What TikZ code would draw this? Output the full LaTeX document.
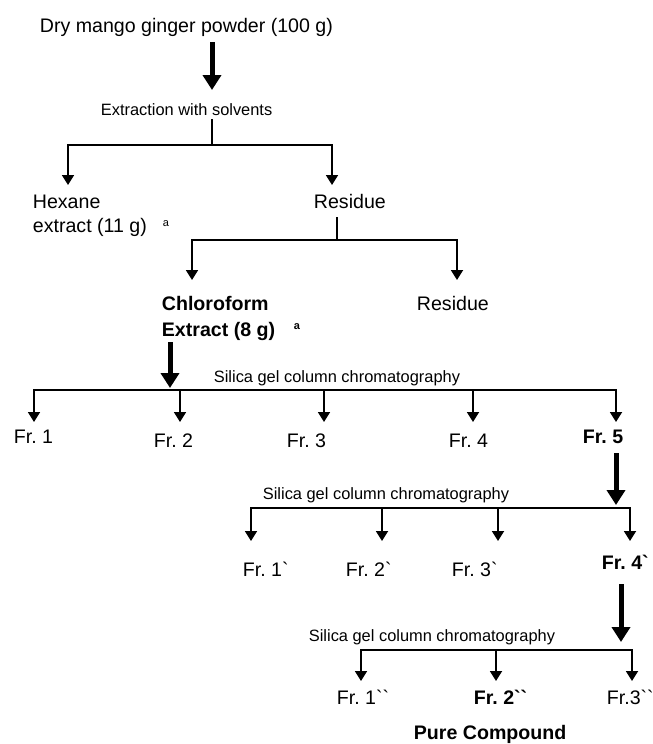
\documentclass[tikz,border=0pt]{standalone}
\usepackage{fontspec}
\setmainfont{Liberation Sans}
\usetikzlibrary{arrows.meta}
\newcommand{\bt}{\textasciigrave}
\frenchspacing
\begin{document}
\begin{tikzpicture}[x=1pt, y=-1pt, line width=1.8pt,
  txt/.style={anchor=base west, inner sep=0pt, font=\fontsize{19.6}{23}\selectfont},
  txtb/.style={txt, font=\fontsize{19.6}{23}\selectfont\bfseries},
  note/.style={anchor=base west, inner sep=0pt, font=\fontsize{16.4}{19}\selectfont},
  supa/.style={anchor=base west, inner sep=0pt, font=\fontsize{11}{13}\selectfont},
  tip/.style={-{Triangle[width=12pt,length=10pt]}},
  tips/.style={{Triangle[width=12pt,length=10pt]}-{Triangle[width=12pt,length=10pt]}},
  big tip/.style={line width=5pt, -{Triangle[width=18pt,length=15pt]}}]
\useasboundingbox (0,0) rectangle (653,744);
% texts
\node [txt](dry) at (39,32) {Dry mango ginger powder (100 g)};
\node [note](extr) at (100,115) {Extraction with solvents};
\node [txt](hex) at (32,208) {Hexane};
\node [txt](hexg) at (32,232) {extract (11 g)};
\node [supa](hexa) at (162,226) {a};
\node [txt](res1) at (313,208) {Residue};
\node [txtb](chl) at (161,310) {Chloroform};
\node [txtb](chlg) at (161,336) {Extract (8 g)};
\node [supa,font=\fontsize{11}{13}\selectfont\bfseries](chla) at (293,329) {a};
\node [txt](res2) at (416,310) {Residue};
\node [note](sil1) at (213,382) {Silica gel column chromatography};
\node [txt](fr1) at (13,443) {Fr. 1};
\node [txt](fr2) at (153,447) {Fr. 2};
\node [txt](fr3) at (286,447) {Fr. 3};
\node [txt](fr4) at (448,447) {Fr. 4};
\node [txtb](fr5) at (582,443) {Fr. 5};
\node [note](sil2) at (262,499) {Silica gel column chromatography};
\node [txt](frp1) at (242,576) {Fr. 1\bt};
\node [txt](frp2) at (345,576) {Fr. 2\bt};
\node [txt](frp3) at (451,576) {Fr. 3\bt};
\node [txtb](frp4) at (601,569) {Fr. 4\bt};
\node [note](sil3) at (308,641) {Silica gel column chromatography};
\node [txt](frpp1) at (336,704) {Fr. 1\bt\bt};
\node [txtb](frpp2) at (473,704) {Fr. 2\bt\bt};
\node [txt](frpp3) at (606,704) {Fr.3\bt\bt};
\node [txtb](pure) at (413,739) {Pure Compound};
% junctions and arrow ends
\coordinate (a0s) at (212,42);   \coordinate (a0e) at (212,90);
\coordinate (s1) at (212,119);   \coordinate (j1) at (212,145);
\coordinate (hexin) at (68,185); \coordinate (res1in) at (332,185);
\coordinate (s2) at (337,217);   \coordinate (j2) at (337,240);
\coordinate (chlin) at (192,280); \coordinate (res2in) at (457,280);
\coordinate (a3s) at (170,342);  \coordinate (a3e) at (170,388);
\coordinate (j3) at (170,390);
\coordinate (fr1in) at (34,422); \coordinate (fr2in) at (180,422);
\coordinate (fr3in) at (324,422); \coordinate (fr4in) at (473,422);
\coordinate (fr5in) at (616,422);
\coordinate (a4s) at (616,453);  \coordinate (a4e) at (616,505);
\coordinate (j4) at (616,508);
\coordinate (frp1in) at (251,541); \coordinate (frp2in) at (382,541);
\coordinate (frp3in) at (498,541); \coordinate (frp4in) at (630,541);
\coordinate (a5s) at (621,584);  \coordinate (a5e) at (621,642);
\coordinate (j5) at (621,650);
\coordinate (frpp1in) at (361,681); \coordinate (frpp2in) at (496,681);
\coordinate (frpp3in) at (632,681);
% big arrows
\path [big tip]
    (a0s) edge (a0e)
    (a3s) edge (a3e)
    (a4s) edge (a4e)
    (a5s) edge (a5e)
         ;
% branches
\draw (s1) -- (j1);
\draw [tips] (hexin) |- (j1) -| (res1in);
\draw (s2) -- (j2);
\draw [tips] (chlin) |- (j2) -| (res2in);
\draw [tips] (fr1in) |- (j3) -| (fr5in);
\draw [tips] (frp1in) |- (j4) -| (frp4in);
\draw [tips] (frpp1in) |- (j5) -| (frpp3in);
\path [tip]
    (fr2in |- j3) edge (fr2in)
    (fr3in |- j3) edge (fr3in)
    (fr4in |- j3) edge (fr4in)
    (frp2in |- j4) edge (frp2in)
    (frp3in |- j4) edge (frp3in)
    (frpp2in |- j5) edge (frpp2in)
         ;
\end{tikzpicture}
\end{document}
